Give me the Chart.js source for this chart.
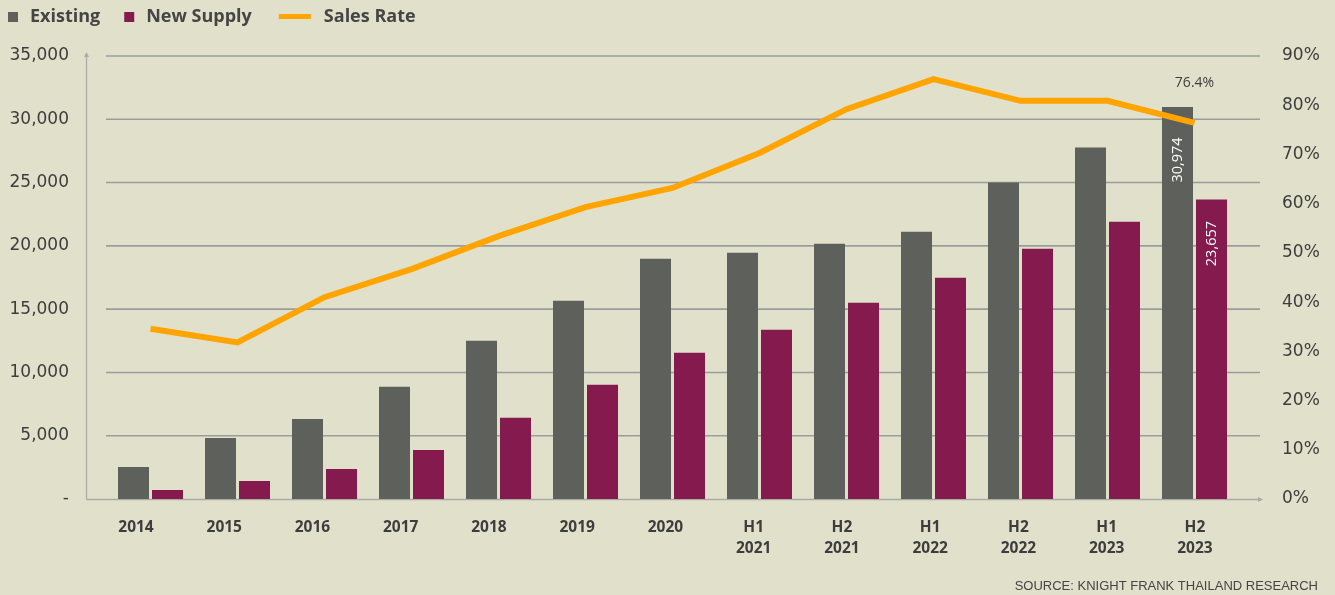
<!DOCTYPE html>
<html>
<head>
<meta charset="utf-8">
<script src="https://cdn.jsdelivr.net/npm/chart.js@4.4.1/dist/chart.umd.min.js"></script>
<style>
html,body{margin:0;padding:0;background:#e1e1cb;}
#wrap{width:1335px;height:595px;}
canvas{display:block;}
</style>
</head>
<body>
<div id="wrap"><canvas id="c" width="1335" height="595"></canvas></div>
<script>
// ---- data ----
const categories = ['2014','2015','2016','2017','2018','2019','2020','H1 2021','H2 2021','H1 2022','H2 2022','H1 2023','H2 2023'];
const existing   = [2530, 4825, 6330, 8860, 12500, 15660, 18985, 19460, 20170, 21120, 25000, 27765, 30974];
const newSupply  = [710, 1425, 2370, 3875, 6410, 9020, 11550, 13370, 15500, 17480, 19775, 21910, 23657];
const salesRate  = [34.6, 31.8, 41.0, 46.7, 53.4, 59.3, 63.2, 70.3, 79.2, 85.3, 80.9, 80.9, 76.4];
const leftTicks  = [0, 5000, 10000, 15000, 20000, 25000, 30000, 35000];
const rightTicks = [0, 10, 20, 30, 40, 50, 60, 70, 80, 90];
const seriesNames = ['Existing', 'New Supply', 'Sales Rate'];
const sourceText = 'SOURCE: KNIGHT FRANK THAILAND RESEARCH';

// ---- style ----
const BG = '#e1e1cb';
const GRAY = '#5e605c';
const PURPLE = '#841a4e';
const ORANGE = '#ffa400';
const TEXT = '#3d3d3d';
const GRID = '#9a9d9d';
const AXIS = '#a9aba7';
const last = categories.length - 1;

const bgPlugin = {
  id: 'bg',
  beforeDraw(chart) {
    const ctx = chart.ctx;
    ctx.save();
    ctx.fillStyle = BG;
    ctx.fillRect(0, 0, chart.width, chart.height);
    ctx.restore();
  }
};

const framePlugin = {
  id: 'frame',
  beforeDatasetsDraw(chart) {
    const ctx = chart.ctx, ca = chart.chartArea, y = chart.scales.y;
    ctx.save();
    ctx.strokeStyle = GRID;
    ctx.lineWidth = 1.6;
    leftTicks.forEach(v => {
      if (v === 0) return;
      const py = y.getPixelForValue(v);
      ctx.beginPath();
      ctx.moveTo(ca.left - 1, py);
      ctx.lineTo(ca.right + 22, py);
      ctx.stroke();
    });
    const ax = ca.left - 20.5, by = ca.bottom + 0.5;
    ctx.strokeStyle = AXIS;
    ctx.fillStyle = AXIS;
    ctx.lineWidth = 1.3;
    ctx.beginPath();
    ctx.moveTo(ax, by);
    ctx.lineTo(ax, ca.top - 1);
    ctx.moveTo(ax, by);
    ctx.lineTo(ca.right + 22, by);
    ctx.stroke();
    ctx.beginPath();
    ctx.moveTo(ax, ca.top - 4); ctx.lineTo(ax - 2.5, ca.top + 1); ctx.lineTo(ax + 2.5, ca.top + 1); ctx.closePath();
    ctx.fill();
    ctx.beginPath();
    ctx.moveTo(ca.right + 25, by); ctx.lineTo(ca.right + 20, by - 2.5); ctx.lineTo(ca.right + 20, by + 2.5); ctx.closePath();
    ctx.fill();
    ctx.restore();
  }
};

const annotPlugin = {
  id: 'annot',
  afterDraw(chart) {
    const ctx = chart.ctx;
    ctx.save();
    const b0 = chart.getDatasetMeta(0).data[last];
    const b1 = chart.getDatasetMeta(1).data[last];
    const p2 = chart.getDatasetMeta(2).data[last];
    ctx.font = '14.5px "Open Sans"';
    ctx.fillStyle = '#ffffff';
    ctx.textAlign = 'center';
    ctx.textBaseline = 'middle';
    [[b0, existing[last], 53], [b1, newSupply[last], 44]].forEach(([el, v, off]) => {
      ctx.save();
      ctx.translate(el.x, el.y + off);
      ctx.rotate(-Math.PI / 2);
      ctx.fillText(v.toLocaleString('en-US'), 0, 0);
      ctx.restore();
    });
    ctx.font = '14px "Open Sans"';
    ctx.fillStyle = TEXT;
    ctx.fillText(salesRate[last].toFixed(1) + '%', p2.x, p2.y - 40);

    // legend
    let x = 8;
    const cy = 17;
    ctx.font = 'bold 18px "Open Sans"';
    ctx.textAlign = 'left';
    chart.data.datasets.forEach(ds => {
      if (ds.type === 'line') {
        x += 3;
        ctx.strokeStyle = ds.borderColor;
        ctx.lineWidth = 5;
        ctx.beginPath();
        ctx.moveTo(x, cy - 0.5); ctx.lineTo(x + 32, cy - 0.5);
        ctx.stroke();
        x += 32 + 13;
      } else {
        ctx.fillStyle = ds.backgroundColor;
        ctx.fillRect(x, cy - 5, 10, 10);
        x += 10 + 12;
      }
      ctx.fillStyle = '#454545';
      ctx.fillText(ds.label, x, cy);
      x += ctx.measureText(ds.label).width + 24;
    });

    ctx.font = '13px "Liberation Sans"';
    ctx.fillStyle = '#444444';
    ctx.textAlign = 'right';
    ctx.fillText(sourceText, 1318, 586);
    ctx.restore();
  }
};

new Chart(document.getElementById('c'), {
  data: {
    labels: categories,
    datasets: [
      { type: 'bar', label: seriesNames[0], data: existing, backgroundColor: GRAY, yAxisID: 'y', xAxisID: 'x',
        categoryPercentage: 0.7816, barPercentage: 0.912, order: 1 },
      { type: 'bar', label: seriesNames[1], data: newSupply, backgroundColor: PURPLE, yAxisID: 'y', xAxisID: 'x',
        categoryPercentage: 0.7816, barPercentage: 0.912, order: 1 },
      { type: 'line', label: seriesNames[2], data: salesRate, borderColor: ORANGE, backgroundColor: ORANGE,
        borderWidth: 6, pointRadius: 0, tension: 0, yAxisID: 'y1', xAxisID: 'x', order: 0,
        borderCapStyle: 'butt', borderJoinStyle: 'miter' }
    ]
  },
  options: {
    responsive: false,
    animation: false,
    events: [],
    layout: { padding: { top: 56, left: 0, right: 0, bottom: 0 } },
    plugins: { legend: { display: false }, tooltip: { enabled: false }, title: { display: false } },
    scales: {
      x: { type: 'category', display: false, offset: true, grid: { display: false } },
      xl: {
        type: 'linear', position: 'bottom', min: -0.3286, max: 12.488, bounds: 'data',
        afterBuildTicks: s => { s.ticks = categories.map((c, i) => ({ value: i })); },
        afterFit: s => { s.height = 96; },
        grid: { display: false, drawTicks: false }, border: { display: false },
        ticks: {
          autoSkip: false, maxRotation: 0, minRotation: 0, padding: 19,
          color: TEXT, font: { family: '"Open Sans"', size: 15.5, weight: 'bold', lineHeight: 1.3 },
          callback: (v, i) => categories[i].split(' ')
        }
      },
      y: {
        type: 'linear', position: 'left', min: 0, max: 35000,
        afterBuildTicks: s => { s.ticks = leftTicks.map(v => ({ value: v })); },
        afterFit: s => { s.width = 107; },
        grid: { display: false, drawTicks: false }, border: { display: false },
        ticks: { padding: 38, color: TEXT, font: { family: '"DejaVu Sans"', size: 17 },
          callback: v => v === 0 ? '-' : v.toLocaleString('en-US') }
      },
      y1: {
        type: 'linear', position: 'right', min: 0, max: 90,
        afterBuildTicks: s => { s.ticks = rightTicks.map(v => ({ value: v })); },
        afterFit: s => { s.width = 97; },
        grid: { display: false, drawTicks: false }, border: { display: false },
        ticks: { padding: 44, color: TEXT, font: { family: '"DejaVu Sans"', size: 17 },
          callback: v => v + '%' }
      }
    }
  },
  plugins: [bgPlugin, framePlugin, annotPlugin]
});
</script>
</body>
</html>
